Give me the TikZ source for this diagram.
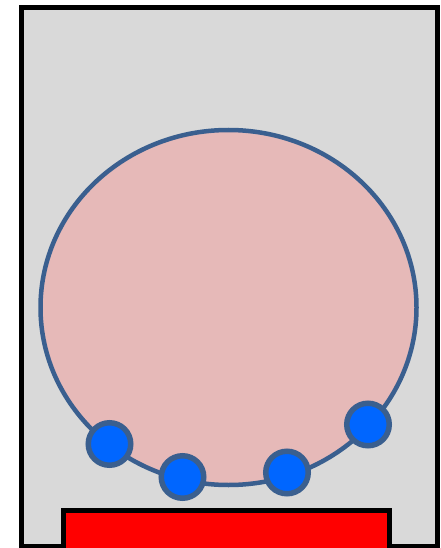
\documentclass[tikz,border=0pt]{standalone}
\definecolor{panelgray}{HTML}{D9D9D9}
\definecolor{ringblue}{HTML}{3A5F8F}
\definecolor{bodypink}{HTML}{E6B9B8}
\definecolor{dotblue}{HTML}{0066FF}
\tikzset{
  panel/.style={draw=black, fill=panelgray, line width=5pt},
  body/.style={draw=ringblue, fill=bodypink, line width=4.5pt},
  dot/.style={circle, draw=ringblue, fill=dotblue, line width=5.5pt, minimum size=42.5pt, inner sep=0pt},
  bar/.style={draw=black, fill=red, line width=4.5pt}
}
\begin{document}
\begin{tikzpicture}[x=1pt,y=-1pt]
\useasboundingbox (0,0) rectangle (440,548);
\draw[panel] (21.5,7.5) rectangle (437,546.5);
\draw[body] (228.5,307.5) ellipse [x radius=188, y radius=177.5];
\node[dot] (d1) at (109.5,444) {};
\node[dot] (d2) at (182.5,477) {};
\node[dot] (d3) at (287,472.5) {};
\node[dot] (d4) at (368,424.5) {};
\draw[bar] (63.5,510.5) rectangle (389.5,552);
\end{tikzpicture}
\end{document}
